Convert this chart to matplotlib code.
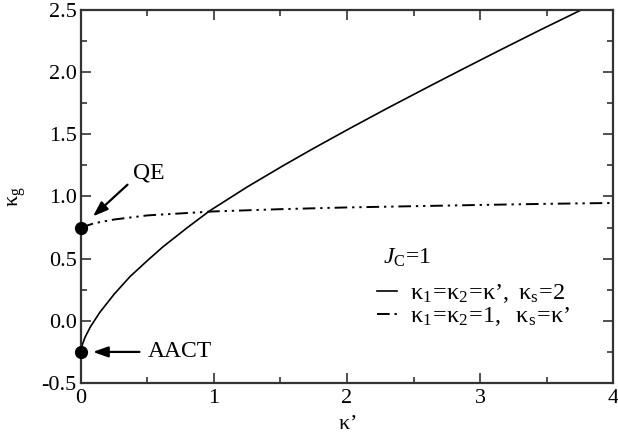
import matplotlib
matplotlib.use("Agg")
import matplotlib.pyplot as plt
from matplotlib.lines import Line2D
from matplotlib.ticker import MultipleLocator

plt.rcParams['font.family'] = ['Liberation Serif', 'DejaVu Serif']
plt.rcParams['mathtext.fontset'] = 'custom'
plt.rcParams['mathtext.rm'] = 'Liberation Serif'
plt.rcParams['mathtext.it'] = 'Liberation Serif:italic'

# kappa1 = kappa2 = kappa', kappa_s = 2  (solid)
kp_solid = [0, 0.01, 0.03, 0.07, 0.143, 0.25, 0.368, 0.5, 0.616, 0.8, 0.968,
            1.25, 1.517, 1.75, 2.02, 2.3, 2.64, 2.9, 3.146, 3.45, 3.76]
kg_solid = [-0.25, -0.193, -0.134, -0.05, 0.07, 0.215, 0.355, 0.485, 0.595, 0.75, 0.885,
            1.077, 1.246, 1.388, 1.547, 1.708, 1.898, 2.041, 2.175, 2.338, 2.5]

# kappa1 = kappa2 = 1, kappa_s = kappa'  (dash-dot-dot)
kp_dd = [0, 0.1, 0.25, 0.5, 1.0, 1.5, 2.0, 2.5, 3.0, 3.5, 4.0]
kg_dd = [0.75, 0.785, 0.815, 0.848, 0.88, 0.898, 0.912, 0.922, 0.932, 0.941, 0.948]

# special points
pts_x = [0, 0]
pts_y = [0.75, -0.25]

dashdotdot = (0, (6.5, 2.5, 1.2, 2.5, 1.2, 2.5))

fig = plt.figure(figsize=(6.18, 4.34), dpi=100)
ax = fig.add_axes([0.131, 0.1175, 0.861, 0.8595])

ax.plot(kp_solid, kg_solid, color='k', lw=1.2)
ax.plot(kp_dd, kg_dd, color='k', lw=1.4, linestyle=dashdotdot)
ax.plot(pts_x, pts_y, 'o', color='k', ms=8.5, clip_on=False, zorder=5)

arr = dict(arrowstyle='-|>,head_length=0.9,head_width=0.32', color='k', lw=1.6,
           shrinkA=0, shrinkB=0)
ax.annotate('', xy=(0.09, 0.84), xytext=(0.35, 1.095), arrowprops=arr)
ax.text(0.39, 1.19, 'QE', fontsize=17, ha='left', va='center')
ax.annotate('', xy=(0.09, -0.25), xytext=(0.44, -0.25), arrowprops=arr)
ax.text(0.50, -0.25, 'AACT', fontsize=17, ha='left', va='center')

ax.set_xlim(0, 4)
ax.set_ylim(-0.5, 2.5)
ax.xaxis.set_major_locator(MultipleLocator(1))
ax.xaxis.set_minor_locator(MultipleLocator(0.5))
ax.yaxis.set_major_locator(MultipleLocator(0.5))
ax.yaxis.set_minor_locator(MultipleLocator(0.25))
ax.yaxis.set_major_formatter(plt.FormatStrFormatter('%.1f'))
ax.tick_params(which='both', direction='in', top=True, right=True,
               labelsize=16, width=1.2, color='#333333')
ax.tick_params(which='major', length=7.5)
ax.tick_params(which='minor', length=4)
ax.tick_params(axis='x', pad=4)
ax.tick_params(axis='y', pad=3)
for s in ax.spines.values():
    s.set_linewidth(1.6)
    s.set_color('#333333')

ax.set_xlabel('$\\mathrm{κ’}$', fontsize=16, labelpad=5)
ax.set_ylabel('$\\mathrm{κ_g}$', fontsize=16, labelpad=10)

# legend: J_C title drawn on its own, then the two curve entries
ax.text(0.568, 0.335, '$J_\\mathrm{C}$=1', transform=ax.transAxes,
        fontsize=17, ha='left', va='center')
handles = [Line2D([], [], color='k', lw=1.2),
           Line2D([], [], color='k', lw=1.4, linestyle=dashdotdot)]
labels = ['$\\mathrm{κ_1\\!=\\!κ_2\\!=\\!κ’,\\ κ_s\\!=\\!2}$',
          '$\\mathrm{κ_1\\!=\\!κ_2\\!=\\!1,\\ \\ κ_s\\!=\\!κ’}$']
ax.legend(handles, labels, loc='upper left', bbox_to_anchor=(0.556, 0.27),
          frameon=False, fontsize=17.5, handlelength=0.85, handletextpad=0.5,
          labelspacing=0.0, borderpad=0, borderaxespad=0)

fig.savefig('out.png', dpi=100)
